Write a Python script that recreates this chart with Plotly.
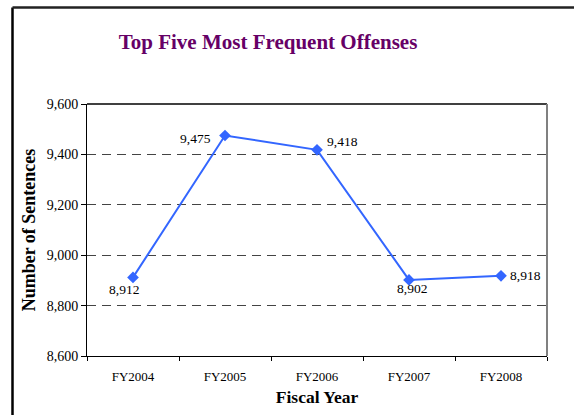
import plotly.graph_objects as go

years = ["FY2004", "FY2005", "FY2006", "FY2007", "FY2008"]
sentences = [8912, 9475, 9418, 8902, 8918]
y_ticks = [8600, 8800, 9000, 9200, 9400, 9600]

font_family = "Liberation Serif"

# label placement (anchor, xshift, yshift) per point
label_style = [
    ("center", -9, -12),
    ("right", -12, -3),
    ("left", 8, 8),
    ("center", 3, -9),
    ("left", 7, 0),
]

fig = go.Figure()
fig.add_trace(go.Scatter(
    x=years, y=sentences,
    mode="lines+markers",
    line=dict(color="#3366FF", width=2),
    marker=dict(symbol="diamond", size=9, color="#3366FF"),
    cliponaxis=False,
    showlegend=False,
))

annotations = []
for yr, v, (anc, xs, ys) in zip(years, sentences, label_style):
    annotations.append(dict(
        x=yr, y=v, xref="x", yref="y", text=f"{v:,}", showarrow=False,
        xanchor=anc, yanchor="middle", xshift=xs, yshift=ys,
        font=dict(family=font_family, size=13.5, color="black"),
    ))

fig.update_layout(
    width=574, height=415,
    margin=dict(l=87, r=27, t=104, b=59),
    paper_bgcolor="white", plot_bgcolor="white",
    font=dict(family=font_family, size=13, color="black"),
    title=dict(text="<b>Top Five Most Frequent Offenses</b>",
               x=268/574, xanchor="center", xref="container",
               y=1 - 42/415, yanchor="middle",
               font=dict(family=font_family, size=21, color="#660066")),
    xaxis=dict(
        title=dict(text="<b>Fiscal Year</b>", font=dict(size=17.5), standoff=8),
        range=[-0.5, 4.5],
        showline=True, linecolor="black", linewidth=1, mirror=False,
        ticks="outside", ticklen=4, tickcolor="black",
        tickson="boundaries", showgrid=False,
        ticklabelstandoff=8,
        tickfont=dict(size=13),
    ),
    yaxis=dict(
        title=dict(text="<b>Number of Sentences</b>", font=dict(size=18), standoff=6),
        range=[8600, 9600], tickvals=y_ticks, tickformat=",d",
        showline=True, linecolor="black", linewidth=1,
        ticks="outside", ticklen=5, tickcolor="black",
        showgrid=True, gridcolor="#444444", gridwidth=1, griddash="9px,6px",
        zeroline=False,
        tickfont=dict(size=14),
    ),
    annotations=annotations,
    shapes=[
        dict(type="line", xref="paper", yref="paper", x0=0, x1=1, y0=1, y1=1,
             line=dict(color="black", width=1.5)),
        dict(type="line", xref="paper", yref="paper", x0=1, x1=1, y0=0, y1=1,
             line=dict(color="#808080", width=2)),
        dict(type="line", xref="paper", yref="paper",
             x0=(12.5 - 87) / 460, x1=(12.5 - 87) / 460,
             y0=(356 - 430) / 252, y1=(356 - 7.5) / 252,
             line=dict(color="black", width=2.5)),
        dict(type="line", xref="paper", yref="paper",
             x0=(12.5 - 87) / 460, x1=(600 - 87) / 460,
             y0=(356 - 7.5) / 252, y1=(356 - 7.5) / 252,
             line=dict(color="#222222", width=2.5)),
    ],
)

fig.write_html("out.html", config={"displayModeBar": False},
               post_script="document.body.style.margin='0';document.body.style.overflow='hidden';")
